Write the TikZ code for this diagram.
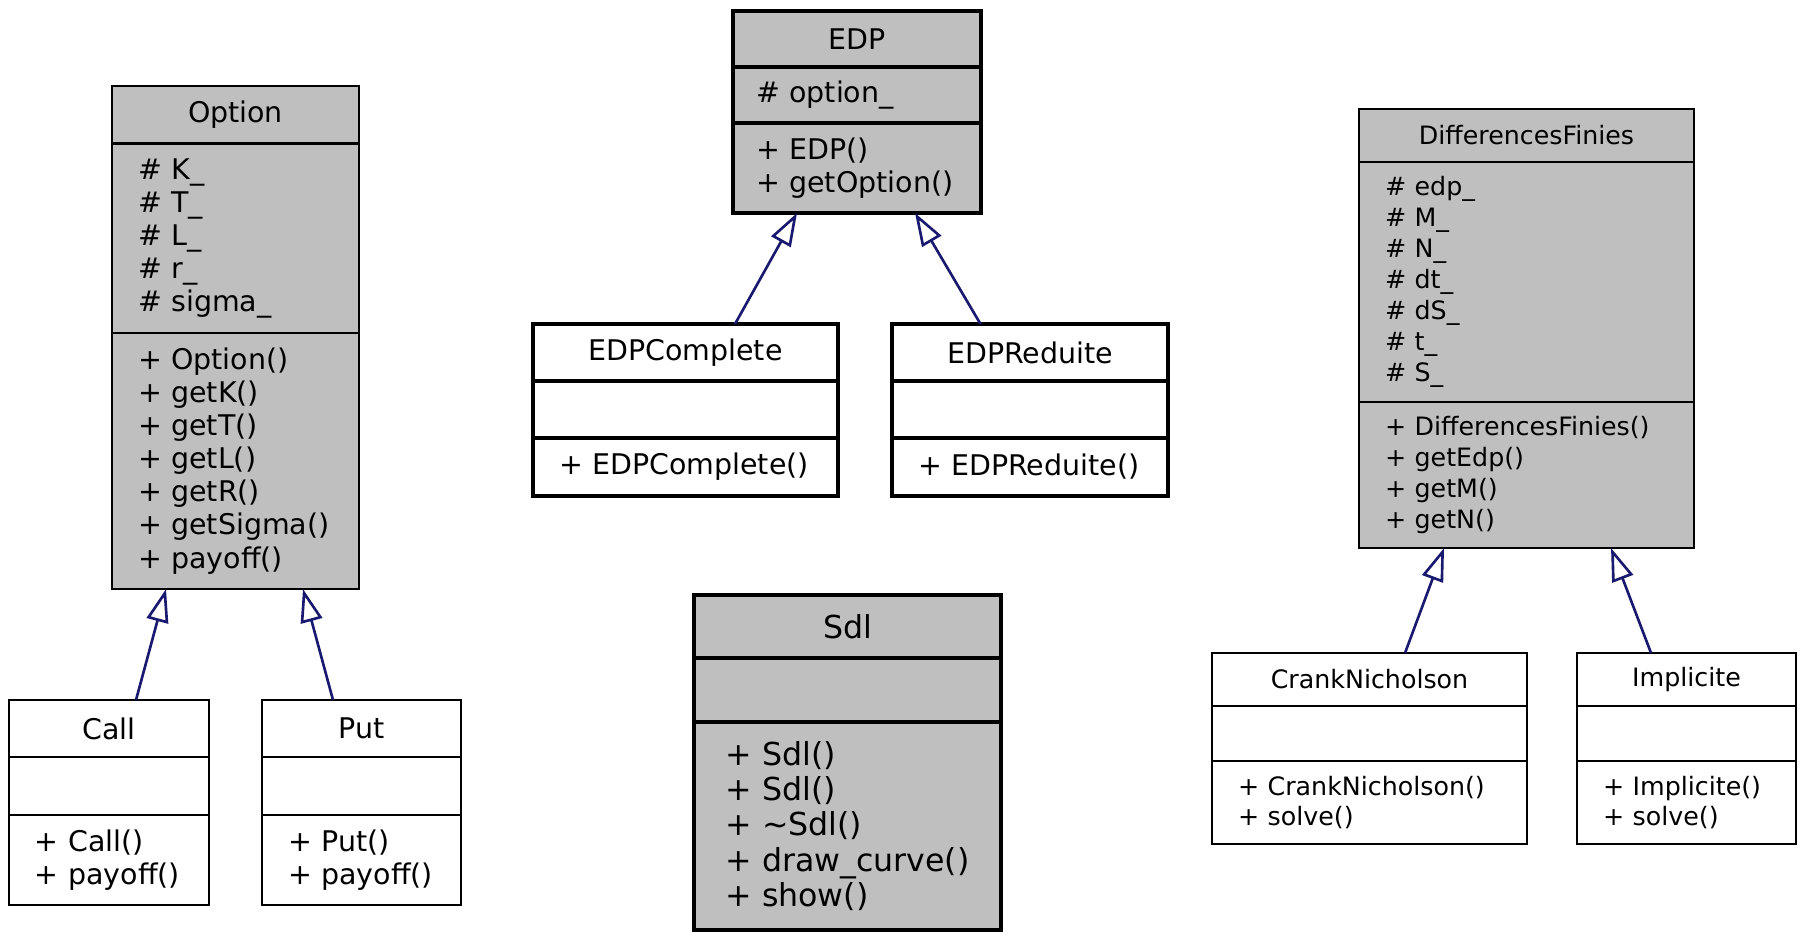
\documentclass[tikz,border=0pt]{standalone}
\usepackage{fontspec}
\setmainfont{DejaVu Sans}
\usetikzlibrary{arrows.meta, positioning}

\definecolor{grisuml}{HTML}{BFBFBF}
\definecolor{bleuuml}{HTML}{191970}
\hyphenpenalty=10000

\begin{document}
\begin{tikzpicture}[
    classe/.style   = {rectangle, draw=black, outer sep=0pt, inner xsep=0.26cm, inner ysep=0pt,
                       align=left, line width=0.7pt},
    titre/.style    = {classe, align=center},
    grisee/.style   = {fill=grisuml},
    epais/.style    = {line width=1.1pt},
    moyen/.style    = {font=\fontsize{8.1}{9.4}\selectfont},
    petit/.style    = {font=\fontsize{7.2}{8.8}\selectfont},
    grand/.style    = {font=\fontsize{9}{10}\selectfont, inner xsep=0.31cm},
    heritage/.style = {-{Triangle[open, length=0.33cm, width=0.22cm]}, line width=0.75pt, bleuuml},
]
\useasboundingbox (0,0) rectangle (18.08,-9.40);

% Option
\node[titre, grisee, moyen, text width=1.95cm, minimum height=0.575cm] (opt) at (2.355,-1.148) {Option};
\node[classe, grisee, moyen, text width=1.95cm, minimum height=1.895cm, below=0pt of opt] (opt-a)
    {\# K\_\\\# T\_\\\# L\_\\\# r\_\\\# sigma\_};
\node[classe, grisee, moyen, text width=1.95cm, minimum height=2.56cm, below=0pt of opt-a] (opt-m)
    {+ Option()\\+ getK()\\+ getT()\\+ getL()\\+ getR()\\+ getSigma()\\+ payoff()};

% Call et Put
\node[titre, moyen, text width=1.48cm, minimum height=0.57cm] (call) at (1.09,-7.285) {Call};
\node[classe, moyen, text width=1.48cm, minimum height=0.58cm, below=0pt of call] (call-a) {};
\node[classe, moyen, text width=1.48cm, minimum height=0.90cm, below=0pt of call-a] (call-m)
    {+ Call()\\+ payoff()};

\node[titre, moyen, text width=1.47cm, minimum height=0.57cm] (put) at (3.615,-7.285) {Put};
\node[classe, moyen, text width=1.47cm, minimum height=0.58cm, below=0pt of put] (put-a) {};
\node[classe, moyen, text width=1.47cm, minimum height=0.90cm, below=0pt of put-a] (put-m)
    {+ Put()\\+ payoff()};

% EDP
\node[titre, grisee, epais, moyen, text width=2.02cm, inner xsep=0.23cm, minimum height=0.56cm] (edp) at (8.57,-0.39) {EDP};
\node[classe, grisee, epais, moyen, text width=2.02cm, inner xsep=0.23cm, minimum height=0.56cm, below=0pt of edp] (edp-a)
    {\# option\_};
\node[classe, grisee, epais, moyen, text width=2.02cm, inner xsep=0.23cm, minimum height=0.90cm, below=0pt of edp-a] (edp-m)
    {+ EDP()\\+ getOption()};

% EDPComplete et EDPReduite
\node[titre, epais, moyen, text width=2.53cm, minimum height=0.57cm] (edpc) at (6.855,-3.525) {EDPComplete};
\node[classe, epais, moyen, text width=2.53cm, minimum height=0.57cm, below=0pt of edpc] (edpc-a) {};
\node[classe, epais, moyen, text width=2.53cm, minimum height=0.58cm, below=0pt of edpc-a] (edpc-m)
    {+ EDPComplete()};

\node[titre, epais, moyen, text width=2.24cm, minimum height=0.57cm] (edpr) at (10.30,-3.525) {EDPReduite};
\node[classe, epais, moyen, text width=2.24cm, minimum height=0.57cm, below=0pt of edpr] (edpr-a) {};
\node[classe, epais, moyen, text width=2.24cm, minimum height=0.58cm, below=0pt of edpr-a] (edpr-m)
    {+ EDPReduite()};

% Sdl
\node[titre, grisee, epais, grand, text width=2.45cm, minimum height=0.63cm] (sdl) at (8.475,-6.265) {Sdl};
\node[classe, grisee, epais, grand, text width=2.45cm, minimum height=0.64cm, below=0pt of sdl] (sdl-a) {};
\node[classe, grisee, epais, grand, text width=2.45cm, minimum height=2.08cm, below=0pt of sdl-a] (sdl-m)
    {+ Sdl()\\+ Sdl()\\+ \textasciitilde Sdl()\\+ draw\_curve()\\+ show()};

% DifferencesFinies
\node[titre, grisee, petit, text width=2.83cm, minimum height=0.53cm] (df) at (15.265,-1.355) {DifferencesFinies};
\node[classe, grisee, petit, text width=2.83cm, minimum height=2.40cm, below=0pt of df] (df-a)
    {\# edp\_\\\# M\_\\\# N\_\\\# dt\_\\\# dS\_\\\# t\_\\\# S\_};
\node[classe, grisee, petit, text width=2.83cm, minimum height=1.46cm, below=0pt of df-a] (df-m)
    {+ DifferencesFinies()\\+ getEdp()\\+ getM()\\+ getN()};

% CrankNicholson et Implicite
\node[titre, petit, text width=2.63cm, minimum height=0.53cm] (cn) at (13.695,-6.795) {CrankNicholson};
\node[classe, petit, text width=2.63cm, minimum height=0.55cm, below=0pt of cn] (cn-a) {};
\node[classe, petit, text width=2.63cm, minimum height=0.83cm, below=0pt of cn-a] (cn-m)
    {+ CrankNicholson()\\+ solve()};

\node[titre, petit, text width=1.67cm, minimum height=0.53cm] (impl) at (16.865,-6.795) {Implicite};
\node[classe, petit, text width=1.67cm, minimum height=0.55cm, below=0pt of impl] (impl-a) {};
\node[classe, petit, text width=1.67cm, minimum height=0.83cm, below=0pt of impl-a] (impl-m)
    {+ Implicite()\\+ solve()};

% Heritages
\draw[heritage] ([xshift=0.27cm]call.north)   -- ([xshift=-0.695cm]opt-m.south);
\draw[heritage] ([xshift=-0.285cm]put.north)  -- ([xshift=0.675cm]opt-m.south);
\draw[heritage] ([xshift=0.495cm]edpc.north)  -- ([xshift=-0.60cm]edp-m.south);
\draw[heritage] ([xshift=-0.495cm]edpr.north) -- ([xshift=0.58cm]edp-m.south);
\draw[heritage] ([xshift=0.355cm]cn.north)    -- ([xshift=-0.825cm]df-m.south);
\draw[heritage] ([xshift=-0.355cm]impl.north) -- ([xshift=0.845cm]df-m.south);

\end{tikzpicture}
\end{document}
